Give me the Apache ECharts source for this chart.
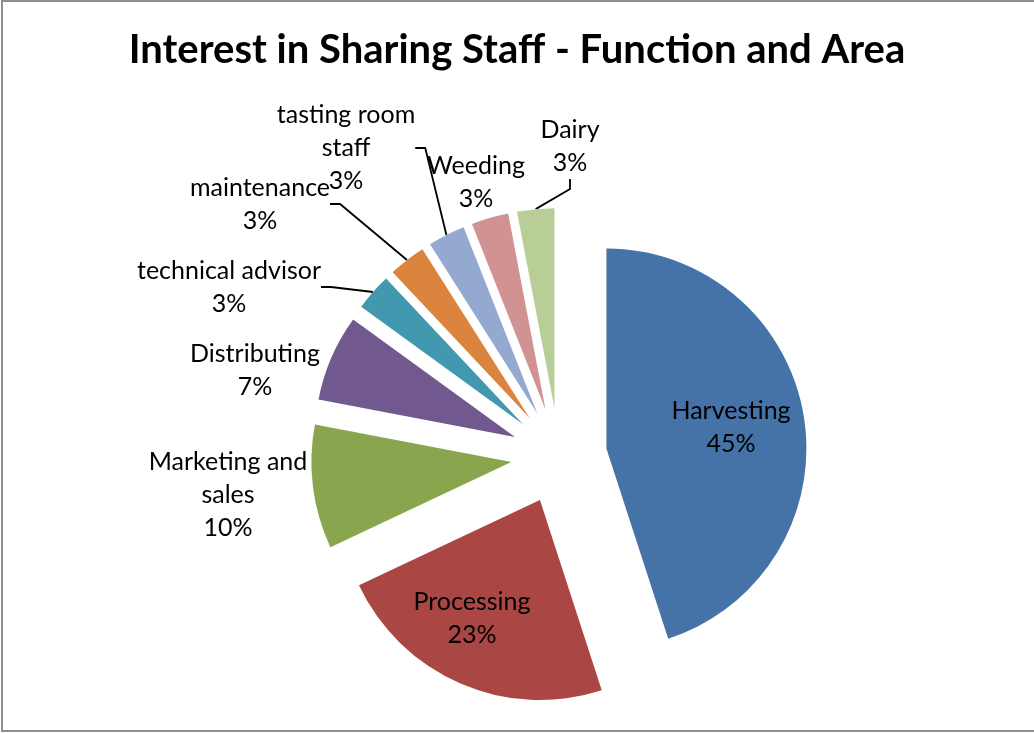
<!DOCTYPE html>
<html>
<head>
<meta charset="utf-8">
<script src="https://cdn.jsdelivr.net/npm/echarts@6/dist/echarts.min.js"></script>
<style>
  html, body { margin: 0; padding: 0; background: #ffffff; }
  #chart { width: 1034px; height: 733px; }
</style>
</head>
<body>
<div id="chart"></div>
<script>
// Functions people would share staff for, with their share of responses (%)
const categories = ['Harvesting', 'Processing', 'Marketing and\nsales', 'Distributing',
  'technical advisor', 'maintenance', 'tasting room\nstaff', 'Weeding', 'Dairy'];
const shares = [45, 23, 10, 7, 3, 3, 3, 3, 3];
const sliceColors = ['#4572A7', '#AA4643', '#89A54E', '#71588F', '#4198AF',
  '#DB843D', '#93A9CF', '#D19392', '#B9CD96'];

// Where each data label block is centred, and which labels get a leader line
const labelSpots = [[731, 427], [472, 618], [228, 495], [255, 370], [229, 287],
  [260, 204], [346, 148], [476, 182], [570, 146]];
const leaderLines = [false, false, false, false, true, true, true, false, true];

const PIE_CENTER = [559, 456];
const PIE_RADIUS = 200;
const EXPLODE = 48;

const chart = echarts.init(document.getElementById('chart'), null, { renderer: 'canvas' });

// Exploded slices: every slice is selected so it is pushed out along its bisector
const sliceData = categories.map((name, i) => ({
  name: name,
  value: shares[i],
  selected: true,
  itemStyle: { color: sliceColors[i] }
}));

// Label ring: an invisible pie reaching the outer edge of the exploded slices,
// which carries the data labels and their leader lines
const labelData = categories.map((name, i) => ({
  name: name,
  value: shares[i],
  labelLine: { show: leaderLines[i] }
}));

chart.setOption({
  animation: false,
  backgroundColor: '#ffffff',
  title: {
    text: 'Interest in Sharing Staff - Function and Area',
    left: 'center',
    top: 30,
    padding: 0,
    textStyle: {
      fontFamily: 'Lato',
      fontWeight: 'bold',
      fontSize: 40,
      color: '#000000'
    }
  },
  graphic: [{
    type: 'rect',
    silent: true,
    shape: { x: 2, y: 1, width: 1040, height: 730 },
    style: { fill: null, stroke: '#8f8f8f', lineWidth: 2 }
  }],
  series: [{
    type: 'pie',
    center: PIE_CENTER,
    radius: PIE_RADIUS,
    startAngle: 90,
    clockwise: true,
    selectedMode: 'multiple',
    selectedOffset: EXPLODE,
    silent: true,
    emphasis: { disabled: true },
    itemStyle: { borderWidth: 0 },
    label: { show: false },
    labelLine: { show: false },
    data: sliceData
  }, {
    type: 'pie',
    center: PIE_CENTER,
    radius: PIE_RADIUS + EXPLODE,
    startAngle: 90,
    clockwise: true,
    silent: true,
    avoidLabelOverlap: false,
    emphasis: { disabled: true },
    itemStyle: { color: 'rgba(0,0,0,0)', borderWidth: 0 },
    label: {
      show: true,
      position: 'outside',
      fontFamily: 'Lato',
      fontSize: 25,
      lineHeight: 33,
      color: '#000000',
      overflow: 'none',
      formatter: p => p.name + '\n' + Math.round(p.percent) + '%'
    },
    labelLine: {
      show: true,
      length: 10,
      length2: 10,
      smooth: false,
      lineStyle: { color: '#000000', width: 1.8 }
    },
    labelLayout: params => {
      const spot = labelSpots[params.dataIndex];
      return { x: spot[0], y: spot[1], align: 'center', verticalAlign: 'middle' };
    },
    data: labelData
  }]
});
</script>
</body>
</html>
